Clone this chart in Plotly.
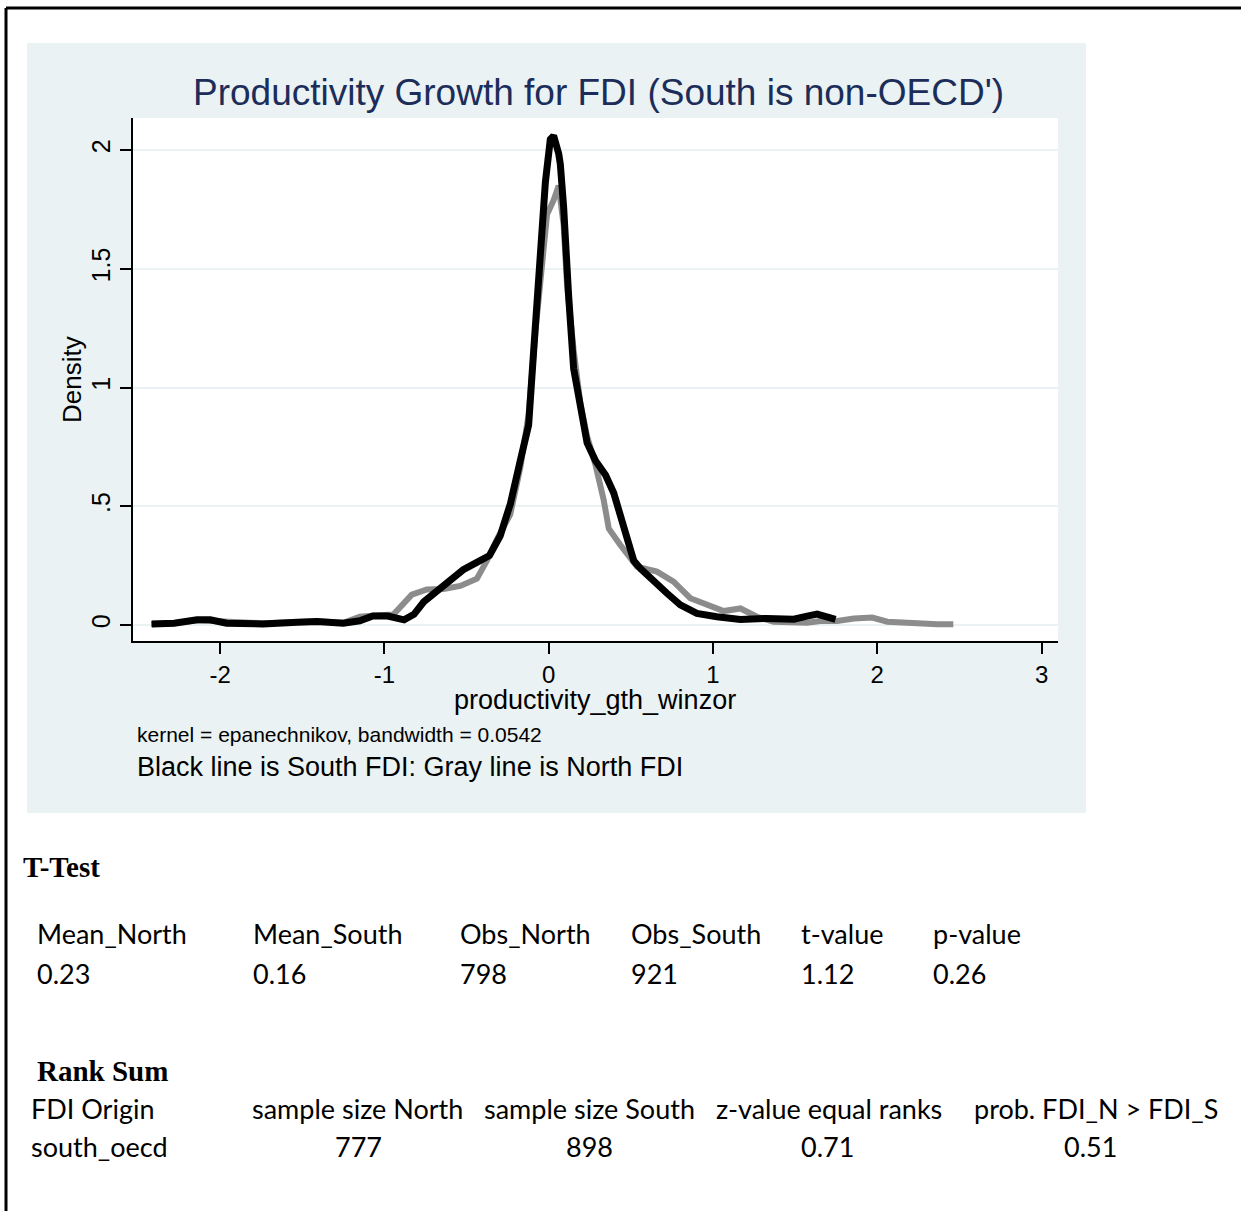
import plotly.graph_objects as go

# ---------------- data ----------------
north_x = [-2.42, -2.28, -2.14, -2.00, -1.90, -1.74, -1.55, -1.41, -1.25, -1.15, -1.05, -0.944,
           -0.833, -0.741, -0.640, -0.538, -0.437, -0.376, -0.315, -0.234, -0.173, -0.122, -0.081,
           -0.041, -0.010, 0.030, 0.061, 0.091, 0.112, 0.152, 0.193, 0.233, 0.284, 0.335, 0.366,
           0.435, 0.537, 0.659, 0.760, 0.862, 0.963, 1.065, 1.167, 1.268, 1.370, 1.472, 1.573,
           1.654, 1.756, 1.858, 1.969, 2.061, 2.163, 2.264, 2.366, 2.463]
north_y = [0.005, 0.008, 0.020, 0.015, 0.008, 0.008, 0.012, 0.016, 0.010, 0.035, 0.040, 0.045,
           0.128, 0.150, 0.152, 0.165, 0.195, 0.271, 0.361, 0.466, 0.662, 0.887, 1.233,
           1.549, 1.729, 1.789, 1.850, 1.684, 1.429, 1.158, 0.932, 0.797, 0.677, 0.526, 0.406,
           0.338, 0.246, 0.225, 0.183, 0.113, 0.085, 0.059, 0.070, 0.035, 0.014, 0.010, 0.010,
           0.017, 0.017, 0.028, 0.032, 0.014, 0.010, 0.004, 0.004, 0.004]

south_x = [-2.416, -2.28, -2.14, -2.06, -1.96, -1.74, -1.53, -1.41, -1.25, -1.15, -1.07, -0.98,
           -0.88, -0.82, -0.76, -0.68, -0.60, -0.52, -0.44, -0.36, -0.295, -0.233, -0.173, -0.122,
           -0.091, -0.061, -0.020, 0.010, 0.030, 0.061, 0.071, 0.091, 0.102, 0.122, 0.152, 0.193,
           0.234, 0.285, 0.346, 0.396, 0.437, 0.478, 0.518, 0.557, 0.638, 0.720, 0.801, 0.902,
           1.024, 1.167, 1.329, 1.492, 1.573, 1.634, 1.746]
south_y = [0.005, 0.008, 0.022, 0.022, 0.008, 0.005, 0.012, 0.015, 0.008, 0.018, 0.038, 0.038,
           0.022, 0.045, 0.098, 0.143, 0.188, 0.233, 0.263, 0.293, 0.376, 0.511, 0.692, 0.842,
           1.158, 1.489, 1.865, 2.045, 2.060, 1.985, 1.940, 1.760, 1.610, 1.380, 1.080, 0.900,
           0.767, 0.692, 0.632, 0.556, 0.451, 0.346, 0.271, 0.239, 0.183, 0.134, 0.085, 0.049,
           0.035, 0.024, 0.028, 0.025, 0.038, 0.046, 0.024]

x_ticks = [-2, -1, 0, 1, 2, 3]
x_ticktext = ["-2", "-1", "0", "1", "2", "3"]
y_ticks = [0, 0.5, 1, 1.5, 2]
y_ticktext = ["0", ".5", "1", "1.5", "2"]

ttest_headers = ["Mean_North", "Mean_South", "Obs_North", "Obs_South", "t-value", "p-value"]
ttest_values = ["0.23", "0.16", "798", "921", "1.12", "0.26"]
rank_headers = ["FDI Origin", "sample size North", "sample size South", "z-value equal ranks",
                "prob. FDI_N > FDI_S"]
rank_values = ["south_oecd", "777", "898", "0.71", "0.51"]

# ---------------- geometry helpers ----------------
WIDTH, HEIGHT = 1241, 1211
PL, PR, PT, PB = 133, 1058, 118, 641
W, H = PR - PL, PB - PT


def xp(px):
    return (px - PL) / W


def yp(py):
    return (PB - py) / H


fig = go.Figure()
fig.add_trace(go.Scatter(x=north_x, y=north_y, mode="lines",
                         line=dict(color="#8c8c8c", width=6), showlegend=False))
fig.add_trace(go.Scatter(x=south_x, y=south_y, mode="lines",
                         line=dict(color="#000000", width=7), showlegend=False))

shapes = [
    dict(type="rect", xref="paper", yref="paper", x0=xp(27), x1=xp(1086), y0=yp(813), y1=yp(43),
         fillcolor="#EAF2F3", line=dict(width=0), layer="below"),
    dict(type="rect", xref="paper", yref="paper", x0=0, x1=1, y0=0, y1=1,
         fillcolor="white", line=dict(width=0), layer="below"),
    dict(type="line", xref="paper", yref="paper", x0=xp(6), x1=xp(6), y0=yp(1215), y1=yp(8),
         line=dict(color="black", width=3)),
    dict(type="line", xref="paper", yref="paper", x0=xp(6), x1=xp(1245), y0=yp(8), y1=yp(8),
         line=dict(color="black", width=3)),
]

SANS = "Liberation Sans, Arial, sans-serif"
SERIF = "Liberation Serif, Times New Roman, serif"
TABLE = "Lato, Carlito, Calibri, sans-serif"

ann = []


def text(px, py, s, size, family=SANS, color="black", xanchor="left", angle=0):
    ann.append(dict(x=xp(px), y=yp(py), xref="paper", yref="paper", text=s, showarrow=False,
                    xanchor=xanchor, yanchor="middle", textangle=angle,
                    font=dict(size=size, family=family, color=color)))


text(598, 93, "Productivity Growth for FDI (South is non-OECD')", 37, color="#1c2d5a",
     xanchor="center")
text(72, 380, "Density", 26, xanchor="center", angle=-90)
text(595, 700, "productivity_gth_winzor", 27, xanchor="center")
text(135, 734, "kernel = epanechnikov, bandwidth = 0.0542", 21)
text(135, 767, "Black line is South FDI: Gray line is North FDI", 27)

text(21, 867, "<b>T-Test</b>", 29, family=SERIF)
text(35, 1071, "<b>Rank Sum</b>", 29, family=SERIF)

tt_x = [35, 251, 458, 629, 799, 931]
for hx, h, v in zip(tt_x, ttest_headers, ttest_values):
    text(hx, 933, h, 27, family=TABLE)
    text(hx, 973, v, 27, family=TABLE)

rh_x = [29, 250, 482, 714, 972]
for hx, h in zip(rh_x, rank_headers):
    text(hx, 1108, h, 27, family=TABLE)
rv_x = [29, 358, 589, 827, 1090]
for i, (vx, v) in enumerate(zip(rv_x, rank_values)):
    text(vx, 1146, v, 27, family=TABLE, xanchor="left" if i == 0 else "center")

fig.update_layout(
    width=WIDTH, height=HEIGHT,
    margin=dict(l=PL, r=WIDTH - PR, t=PT, b=HEIGHT - PB, pad=0),
    paper_bgcolor="white", plot_bgcolor="white",
    shapes=shapes, annotations=ann, showlegend=False,
    font=dict(family=SANS, color="black"),
)
fig.update_xaxes(range=[-2.53, 3.10], tickvals=x_ticks, ticktext=x_ticktext, ticks="outside",
                 ticklen=11, tickwidth=1.5, tickcolor="black", showline=True, linecolor="black",
                 linewidth=1.5, showgrid=False, zeroline=False,
                 tickfont=dict(size=24, family=SANS, color="black"))
fig.update_yaxes(range=[-0.067, 2.135], tickvals=y_ticks, ticktext=y_ticktext, tickangle=-90,
                 ticks="outside", ticklen=11, tickwidth=1.5, tickcolor="black", showline=True,
                 linecolor="black", linewidth=1.5, showgrid=True, gridcolor="#EAF2F3",
                 gridwidth=2, zeroline=False,
                 tickfont=dict(size=25, family=SANS, color="black"))

fig.write_html("out.html", config={"displayModeBar": False},
               post_script="document.body.style.margin='0';")
